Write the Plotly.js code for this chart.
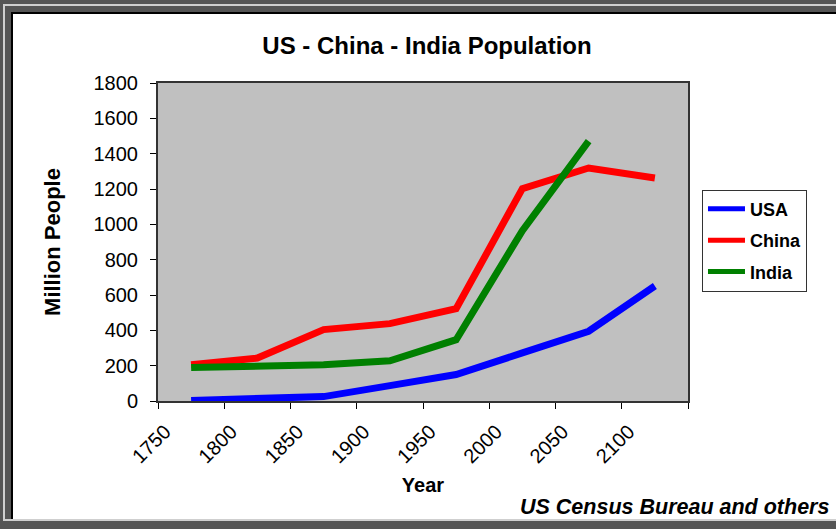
<!DOCTYPE html>
<html><head><meta charset="utf-8">
<script src="https://cdn.plot.ly/plotly-3.0.1.min.js"></script>
<style>
html,body{margin:0;padding:0;background:#555555;width:836px;height:529px;overflow:hidden;position:relative}
.f{position:absolute}
</style></head><body>
<div class="f" style="left:3px;top:4px;width:833px;height:2px;background:#cfcfcf"></div>
<div class="f" style="left:3px;top:4px;width:2px;height:517px;background:#cfcfcf"></div>
<div class="f" style="left:11px;top:12px;width:825px;height:507px;background:#000"></div>
<div class="f" style="left:3px;top:519px;width:833px;height:2px;background:#cfcfcf"></div>
<div id="chart" class="f" style="left:13px;top:14px;width:823px;height:505px"></div>
<script>
const years = [1775, 1825, 1875, 1925, 1975, 2025, 2075, 2125];
const usa   = [3, 10, 25, 87, 150, 272, 395, 651];
const china = [205, 243, 404, 438, 522, 1202, 1319, 1262];
const india = [190, 199, 205, 228, 347, 964, 1471, null];
const tickYears  = [1750, 1800, 1850, 1900, 1950, 2000, 2050, 2100, 2150];
const tickLabels = ['1750', '1800', '1850', '1900', '1950', '2000', '2050', '2100', ''];
const yTicks = [0, 200, 400, 600, 800, 1000, 1200, 1400, 1600, 1800];

const FONT = 'Liberation Sans, Arial, sans-serif';
function tr(name, y, color, g) {
  return {x: years, y: y, name: '<b>' + name + '</b>', type: 'scatter', mode: 'lines',
          legendgroup: g, line: {color: color, width: 7}};
}
const data = [
  tr('USA', usa, '#0000FF', 'a'),
  tr('China', china, '#FF0000', 'b'),
  tr('India', india, '#008000', 'c')
];
const layout = {
  width: 823, height: 505,
  margin: {l: 145, r: 148, t: 69, b: 118},
  paper_bgcolor: '#FFFFFF', plot_bgcolor: '#C0C0C0',
  font: {family: FONT, color: '#000'},
  title: {text: '<b>US - China - India Population</b>', font: {size: 24, family: FONT, color: '#000'},
          x: 0.503, xanchor: 'center', y: 0.9366, yanchor: 'middle'},
  xaxis: {range: [1750, 2150], tickmode: 'array', tickvals: tickYears, ticktext: tickLabels,
          tickangle: -45, ticks: 'outside', ticklen: 6, tickwidth: 1, tickcolor: '#000',
          showgrid: false, zeroline: false, showline: true, mirror: true, linecolor: '#333', linewidth: 2,
          tickfont: {size: 20, family: FONT}, ticklabelstandoff: 3, ticklabelshift: 7,
          title: {text: '<b>Year</b>', font: {size: 20, family: FONT}, standoff: 12}},
  yaxis: {range: [0, 1800], tickmode: 'array', tickvals: yTicks,
          ticks: 'outside', ticklen: 6, tickwidth: 1, tickcolor: '#000',
          showgrid: false, zeroline: false, showline: true, mirror: true, linecolor: '#333', linewidth: 2,
          tickfont: {size: 20, family: FONT}, ticklabelstandoff: 8,
          title: {text: '<b>Million People</b>', font: {size: 22, family: FONT}, standoff: 27}},
  legend: {x: 1.0264, xanchor: 'left', y: 0.665, yanchor: 'top', bgcolor: '#FFFFFF',
           bordercolor: '#333', borderwidth: 1, font: {size: 18, family: FONT},
           traceorder: 'grouped', tracegroupgap: 5, itemsizing: 'constant', itemwidth: 37},
  showlegend: true,
  annotations: [{text: '<b><i>US Census Bureau and others</i></b>', xref: 'paper', yref: 'paper',
                 x: 1.27, xanchor: 'right', y: -0.3333, yanchor: 'middle', showarrow: false,
                 font: {size: 21.5, family: FONT, color: '#000'}}]
};
Plotly.newPlot('chart', data, layout, {displayModeBar: false, staticPlot: true});
</script>
</body></html>
